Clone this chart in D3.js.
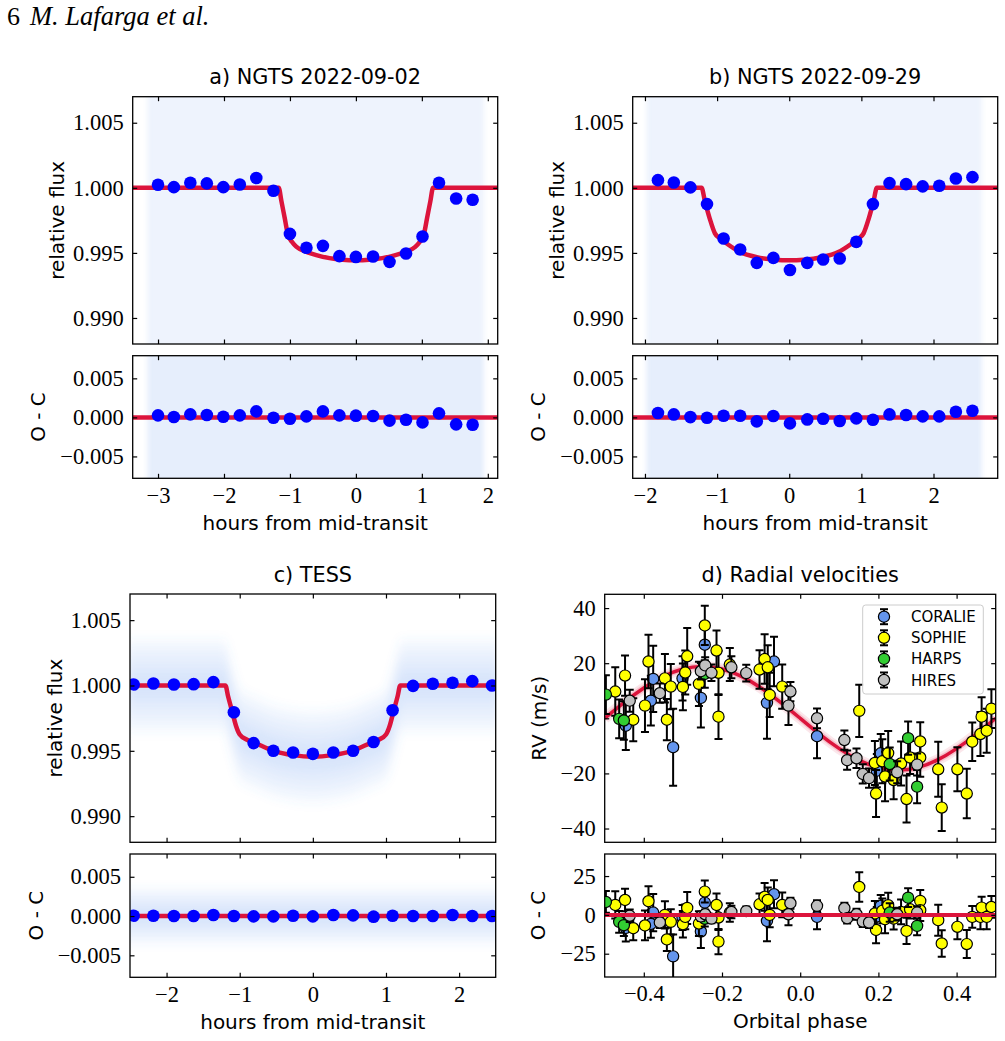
<!DOCTYPE html>
<html>
<head>
<meta charset="utf-8">
<script src="https://cdn.jsdelivr.net/npm/d3@7"></script>
<style>
body { margin: 0; background: #fff; }
.tick-label { font-family: "Liberation Serif", "Times New Roman", serif; font-size: 22.5px; }
.lab { font-family: "DejaVu Sans", sans-serif; font-size: 20px; }
.ttl { font-family: "DejaVu Sans", sans-serif; font-size: 20.8px; }
.leg { font-family: "DejaVu Sans", sans-serif; font-size: 15px; }
</style>
</head>
<body>
<svg id="fig" width="1005" height="1041"></svg>
<script>
// ---- binned light curves (hours from mid-transit, relative flux, O-C) ----
var ngtsA_t = [-3.00,-2.76,-2.51,-2.26,-2.01,-1.76,-1.51,-1.25,-1.00,-0.75,-0.50,-0.25,0.00,0.26,0.51,0.76,1.01,1.26,1.52,1.77];
var ngtsA_flux = [1.00023,1.00005,1.00039,1.00034,1.00005,1.00026,1.00075,0.99977,0.99646,0.99539,0.99554,0.99475,0.99469,0.99472,0.99431,0.99495,0.99626,1.00039,0.99918,0.99908];
var ngtsA_res = [0.00026,0.00005,0.00039,0.00030,0.00009,0.00026,0.00077,-0.00004,-0.00017,0.00013,0.00077,0.00026,0.00022,0.00018,-0.00042,-0.00030,-0.00064,0.00052,-0.00089,-0.00094];

var ngtsB_t = [-1.82,-1.60,-1.37,-1.14,-0.91,-0.68,-0.45,-0.22,0.01,0.25,0.47,0.70,0.93,1.16,1.39,1.62,1.85,2.08,2.31,2.54];
var ngtsB_flux = [1.00059,1.00041,1.00003,0.99875,0.99611,0.99526,0.99423,0.99462,0.99369,0.99423,0.99449,0.99457,0.99585,0.99875,1.00036,1.00028,1.00011,1.00016,1.00072,1.00082];
var ngtsB_res = [0.00056,0.00038,0.00004,-0.00004,0.00021,0.00021,-0.00051,0.00017,-0.00077,-0.00026,-0.00017,-0.00047,-0.00013,-0.00030,0.00038,0.00030,0.00013,0.00013,0.00073,0.00085];

var tess_t = [-2.45,-2.18,-1.90,-1.63,-1.36,-1.08,-0.81,-0.54,-0.27,0.00,0.28,0.55,0.83,1.09,1.37,1.64,1.91,2.18,2.45];
var tess_flux = [1.00008,1.00015,1.00008,1.00010,1.00026,0.99795,0.99559,0.99500,0.99487,0.99477,0.99487,0.99500,0.99567,0.99810,0.99997,1.00013,1.00021,1.00033,1.00000];
var tess_res = [0.00004,0.00004,0,0,0.00013,0,-0.00004,-0.00004,0.00004,-0.00004,0.00013,0.00008,-0.00008,0.00004,0,0,0.00013,0,0];

// transit models [hours, flux]
var modelA = [[-3.40,1],[-1.17,1],[-1.13,0.9990],[-1.08,0.9977],[-1.03,0.9964],[-0.97,0.99585],[-0.90,0.99546],[-0.75,0.99508],[-0.60,0.99483],[-0.40,0.99460],[-0.20,0.99448],[0,0.99444],[0.20,0.99448],[0.40,0.99460],[0.60,0.99483],[0.75,0.99508],[0.90,0.99546],[0.97,0.99585],[1.03,0.9964],[1.08,0.9977],[1.13,0.9990],[1.17,1],[2.20,1]];
var modelB = [[-2.20,1],[-1.215,1],[-1.17,0.9990],[-1.10,0.9976],[-1.03,0.9965],[-0.96,0.9961],[-0.90,0.99585],[-0.68,0.99506],[-0.45,0.99467],[-0.20,0.99448],[0,0.99444],[0.20,0.99448],[0.45,0.99467],[0.68,0.99506],[0.90,0.99585],[0.96,0.9961],[1.03,0.9965],[1.10,0.9976],[1.17,0.9990],[1.215,1],[2.95,1]];
var modelC = [[-2.55,1],[-1.195,1],[-1.16,0.9992],[-1.10,0.99795],[-1.05,0.9969],[-1.00,0.99625],[-0.90,0.99585],[-0.81,0.99565],[-0.54,0.99500],[-0.27,0.99467],[0,0.99454],[0.27,0.99467],[0.54,0.99500],[0.81,0.99565],[0.90,0.99585],[1.00,0.99625],[1.05,0.9969],[1.10,0.99795],[1.16,0.9992],[1.195,1],[2.55,1]];

// extent of the unbinned photometry cloud (hours) and its spread (flux)
var ngtsA_cloud = [-3.16, 1.94];
var ngtsB_cloud = [-1.98, 2.67];
var tess_spread = [0.0008, 0.0015, 0.0022, 0.0029, 0.0036];

// ---- radial velocities: [phase, RV (m/s), error, O-C] ----
var coralie = [[-0.446,-2.7,8.8,-8.4],[-0.382,6.4,9.0,-5.8],[-0.376,14.3,12.0,1.5],[-0.325,-10.5,14.0,-26.7],[-0.301,14.5,8.0,-1.7],[-0.254,7.4,10.7,-10.7],[-0.244,26.7,6.0,7.9],[-0.085,5.6,13.0,-3.9],[-0.067,20.6,9.0,13.3],[0.043,-6.5,8.0,-1.3],[0.196,-19.0,6.0,-1.0],[0.206,-12.7,7.0,5.8]];
var sophie = [[-0.473,9.7,8.8,6.4],[-0.448,15.5,7.3,9.6],[-0.427,-0.5,7.8,-8.6],[-0.397,4.6,9.6,-6.8],[-0.388,20.6,9.7,8.8],[-0.346,14.5,8.8,0.0],[-0.341,-0.5,7.5,-15.8],[-0.331,11.5,8.2,-4.5],[-0.300,11.4,8.5,-6.0],[-0.294,16.6,8.0,-1.3],[-0.289,22.5,10.3,4.5],[-0.259,12.5,8.0,-5.6],[-0.244,33.7,7.1,15.0],[-0.214,24.6,7.3,6.4],[-0.209,16.5,8.0,-1.7],[-0.209,0.6,8.1,-17.2],[-0.180,19.5,6.0,1.5],[-0.104,17.7,7.0,6.8],[-0.091,21.5,9.0,11.6],[-0.083,18.5,8.0,9.6],[-0.078,8.5,8.0,0.0],[-0.046,11.5,8.0,6.4],[0.151,2.7,9.5,18.0],[0.191,-16.2,8.0,0.9],[0.194,-27.3,8.5,-9.7],[0.210,-15.6,8.0,2.6],[0.217,-21.1,9.0,-2.8],[0.225,-12.6,8.0,6.2],[0.239,-22.4,7.0,-2.4],[0.258,-16.4,8.0,1.9],[0.272,-29.3,8.5,-10.3],[0.281,-14.2,6.0,3.6],[0.307,-8.4,7.0,9.0],[0.307,-14.2,7.0,3.0],[0.353,-18.5,10.0,-3.4],[0.362,-32.4,8.5,-18.4],[0.402,-18.5,8.0,-7.7],[0.426,-27.3,9.0,-18.8],[0.440,-8.5,7.0,-1.3],[0.461,-5.7,8.0,-1.3],[0.464,0.6,7.0,4.7],[0.477,-4.5,8.0,-1.3],[0.489,3.5,7.0,5.1]];
var harps = [[-0.497,8.6,7.0,8.3],[-0.463,-0.2,7.0,-4.5],[-0.451,-0.8,7.0,-6.6],[-0.244,16.1,5.0,-2.5],[0.229,-16.6,6.0,1.5],[0.276,-7.2,6.0,11.1],[0.299,-24.8,6.0,-7.1]];
var hires = [[-0.436,6.4,4.0,-0.6],[-0.359,9.1,3.5,-4.9],[-0.254,17.1,3.0,-1.0],[-0.243,19.2,3.0,0.4],[-0.227,16.5,3.0,-2.4],[-0.176,18.5,4.0,1.9],[-0.138,16.4,3.0,2.4],[-0.025,9.7,3.5,7.5],[-0.030,4.6,7.0,0.4],[0.043,0.0,3.6,5.8],[0.113,-7.9,3.5,4.3],[0.120,-15.2,3.5,-2.1],[0.144,-14.5,3.5,0.4],[0.160,-20.2,3.5,-4.3],[0.176,-21.7,3.5,-4.9],[0.248,-19.6,4.0,0.4],[0.299,-16.8,4.0,1.5]];

// keplerian model [phase, RV]
var rvModel = [[-0.5,0],[-0.45,5.8],[-0.4,11.0],[-0.35,15.2],[-0.3,17.9],[-0.25,18.8],[-0.2,17.9],[-0.15,15.2],[-0.1,11.0],[-0.05,5.8],[0,0],[0.05,-5.8],[0.1,-11.0],[0.15,-15.2],[0.2,-17.9],[0.25,-18.8],[0.3,-17.9],[0.35,-15.2],[0.4,-11.0],[0.45,-5.8],[0.5,0]];

var instNames = ["CORALIE", "SOPHIE", "HARPS", "HIRES"];
var instColors = ["#6495ed", "#ffff00", "#32cd32", "#c0c0c0"];

var fluxTicks = [0.990, 0.995, 1.000, 1.005];
var ocTicks = [-0.005, 0, 0.005];

var RED = "#dc143c", BLUE = "#0000ff", CLOUD = "#6495ed";
var TICK = 4.5;
var svg = d3.select("#fig");
var clipCount = 0;

// soft edges for the unbinned photometry clouds
var defs = svg.append("defs");
defs.append("filter").attr("id", "soft").attr("x", "-10%").attr("y", "-20%").attr("width", "120%").attr("height", "140%")
    .append("feGaussianBlur").attr("stdDeviation", 5);
defs.append("filter").attr("id", "edge").attr("x", "-10%").attr("y", "-10%").attr("width", "120%").attr("height", "120%")
    .append("feGaussianBlur").attr("stdDeviation", 2.5);

function axesBox(left, top, w, h) {
    var g = svg.append("g").attr("transform", "translate(" + left + "," + top + ")");
    var id = "clip" + (clipCount++);
    g.append("clipPath").attr("id", id).append("rect").attr("width", w).attr("height", h);
    g.plot = g.append("g").attr("clip-path", "url(#" + id + ")");
    return g;
}

function drawTicks(g, x, y, w, h, xTicks, yTicks, xFmt, yFmt) {
    g.append("g").attr("transform", "translate(0," + h + ")")
        .call(d3.axisBottom(x).tickValues(xTicks).tickSize(-TICK).tickPadding(8.5).tickFormat(xFmt || ""));
    g.append("g").call(d3.axisTop(x).tickValues(xTicks).tickSize(-TICK).tickFormat(""));
    g.append("g").call(d3.axisLeft(y).tickValues(yTicks).tickSize(-TICK).tickPadding(9).tickFormat(yFmt));
    g.append("g").attr("transform", "translate(" + w + ",0)")
        .call(d3.axisRight(y).tickValues(yTicks).tickSize(-TICK).tickFormat(""));
    g.selectAll(".domain").remove();
    g.selectAll(".tick line").attr("stroke", "#000").attr("stroke-width", 1.2);
    g.selectAll(".tick text").attr("class", "tick-label").attr("fill", "#000");
    g.append("rect").attr("width", w).attr("height", h)
        .attr("fill", "none").attr("stroke", "#000").attr("stroke-width", 1.3);
}

function yLabel(text, x, yc) {
    svg.append("text").attr("class", "lab").attr("text-anchor", "middle")
        .attr("transform", "translate(" + x + "," + yc + ") rotate(-90)").text(text);
}

function lightCurvePanel(p) {
    var w = p.right - p.left;
    var x = d3.scaleLinear().domain(p.xDomain).range([0, w]);

    // main panel
    var hM = p.mainBottom - p.top;
    var yM = d3.scaleLinear().domain([0.988, 1.007]).range([hM, 0]);
    var gM = axesBox(p.left, p.top, w, hM);
    if (p.cloud) {
        gM.plot.append("rect").attr("x", x(p.cloud[0])).attr("width", x(p.cloud[1]) - x(p.cloud[0]))
            .attr("y", -20).attr("height", hM + 40).attr("fill", CLOUD).attr("opacity", 0.11)
            .attr("filter", "url(#edge)");
    } else {
        var cg = gM.plot.append("g").attr("filter", "url(#soft)");
        tess_spread.forEach(function(s) {
            cg.append("path").datum(p.model)
                .attr("d", d3.area().curve(d3.curveMonotoneX)
                    .x(function(d) { return x(d[0]); })
                    .y0(function(d) { return yM(d[1] - s); })
                    .y1(function(d) { return yM(d[1] + s); }))
                .attr("fill", CLOUD).attr("opacity", 0.055);
        });
    }
    gM.plot.append("path").datum(p.model)
        .attr("d", d3.line().curve(d3.curveMonotoneX).x(function(d) { return x(d[0]); }).y(function(d) { return yM(d[1]); }))
        .attr("fill", "none").attr("stroke", RED).attr("stroke-width", 4.5);
    gM.plot.selectAll("circle.bin").data(p.t).enter().append("circle")
        .attr("cx", function(d) { return x(d); })
        .attr("cy", function(d, i) { return yM(p.flux[i]); })
        .attr("r", 6.3).attr("fill", BLUE);
    drawTicks(gM, x, yM, w, hM, p.xTicks, fluxTicks, null, d3.format(".3f"));

    // residual panel
    var hR = p.resBottom - p.resTop;
    var yR = d3.scaleLinear().domain([-0.0078, 0.0079]).range([hR, 0]);
    var gR = axesBox(p.left, p.resTop, w, hR);
    if (p.cloud) {
        gR.plot.append("rect").attr("x", x(p.cloud[0])).attr("width", x(p.cloud[1]) - x(p.cloud[0]))
            .attr("y", -20).attr("height", hR + 40).attr("fill", CLOUD).attr("opacity", 0.16)
            .attr("filter", "url(#edge)");
    } else {
        var cr = gR.plot.append("g").attr("filter", "url(#soft)");
        tess_spread.forEach(function(s) {
            cr.append("rect").attr("x", -20).attr("width", w + 40)
                .attr("y", yR(s)).attr("height", yR(-s) - yR(s))
                .attr("fill", CLOUD).attr("opacity", 0.055);
        });
    }
    gR.plot.append("line").attr("x1", 0).attr("x2", w).attr("y1", yR(0)).attr("y2", yR(0))
        .attr("stroke", RED).attr("stroke-width", 4.5);
    gR.plot.selectAll("circle.bin").data(p.t).enter().append("circle")
        .attr("cx", function(d) { return x(d); })
        .attr("cy", function(d, i) { return yR(p.res[i]); })
        .attr("r", 6.3).attr("fill", BLUE);
    drawTicks(gR, x, yR, w, hR, p.xTicks, ocTicks, d3.format("d"), d3.format(".3f"));

    // labels
    svg.append("text").attr("class", "ttl").attr("text-anchor", "middle")
        .attr("x", p.left + w / 2).attr("y", p.top - 12.5).text(p.title);
    svg.append("text").attr("class", "lab").attr("text-anchor", "middle")
        .attr("x", p.left + w / 2).attr("y", p.resBottom + 52).text("hours from mid-transit");
    yLabel("relative flux", p.labX, p.top + hM / 2);
    yLabel("O - C", p.labX - 18.5, p.resTop + hR / 2);
}

lightCurvePanel({ left: 132.7, right: 497.7, top: 96.7, mainBottom: 344, resTop: 355.7, resBottom: 478.3,
    xDomain: [-3.384, 2.15], xTicks: [-3, -2, -1, 0, 1, 2], title: "a) NGTS 2022-09-02",
    t: ngtsA_t, flux: ngtsA_flux, res: ngtsA_res, model: modelA, cloud: ngtsA_cloud, labX: 63.5 });
lightCurvePanel({ left: 632.7, right: 997.7, top: 96.7, mainBottom: 344, resTop: 355.7, resBottom: 478.3,
    xDomain: [-2.17, 2.89], xTicks: [-2, -1, 0, 1, 2], title: "b) NGTS 2022-09-29",
    t: ngtsB_t, flux: ngtsB_flux, res: ngtsB_res, model: modelB, cloud: ngtsB_cloud, labX: 563.5 });
lightCurvePanel({ left: 130, right: 495.7, top: 594, mainBottom: 842.3, resTop: 854, resBottom: 977.3,
    xDomain: [-2.5, 2.5], xTicks: [-2, -1, 0, 1, 2], title: "c) TESS",
    t: tess_t, flux: tess_flux, res: tess_res, model: modelC, cloud: null, labX: 61.5 });

// ---- radial velocity panel ----
(function() {
    var left = 604.7, right = 995.7, top = 594.3, mainBottom = 842.3, resTop = 854, resBottom = 977;
    var w = right - left;
    var x = d3.scaleLinear().domain([-0.5, 0.5]).range([0, w]);
    var hM = mainBottom - top, hR = resBottom - resTop;
    var yM = d3.scaleLinear().domain([-45, 45]).range([hM, 0]);
    var yR = d3.scaleLinear().domain([-40, 39.2]).range([hR, 0]);
    var sets = [coralie, sophie, harps, hires];

    function errPoints(g, y, col) {
        sets.forEach(function(rows, k) {
            var grp = g.append("g");
            rows.forEach(function(r) {
                var cx = x(r[0]), v = r[col];
                var y0 = y(v - r[2]), y1 = y(v + r[2]);
                grp.append("line").attr("x1", cx).attr("x2", cx).attr("y1", y0).attr("y2", y1)
                    .attr("stroke", "#000").attr("stroke-width", 2);
                [y0, y1].forEach(function(yy) {
                    grp.append("line").attr("x1", cx - 4).attr("x2", cx + 4).attr("y1", yy).attr("y2", yy)
                        .attr("stroke", "#000").attr("stroke-width", 2);
                });
            });
            grp.selectAll("circle").data(rows).enter().append("circle")
                .attr("cx", function(r) { return x(r[0]); })
                .attr("cy", function(r) { return y(r[col]); })
                .attr("r", 5.6).attr("fill", instColors[k]).attr("stroke", "#000").attr("stroke-width", 1.2);
        });
    }

    var gM = axesBox(left, top, w, hM);
    var line = d3.line().curve(d3.curveNatural).x(function(d) { return x(d[0]); }).y(function(d) { return yM(d[1]); });
    gM.plot.append("path").datum(rvModel).attr("d", line).attr("fill", "none")
        .attr("stroke", RED).attr("stroke-opacity", 0.1).attr("stroke-width", 11);
    gM.plot.append("path").datum(rvModel).attr("d", line).attr("fill", "none")
        .attr("stroke", RED).attr("stroke-opacity", 0.18).attr("stroke-width", 6.5);
    gM.plot.append("path").datum(rvModel).attr("d", line).attr("fill", "none")
        .attr("stroke", RED).attr("stroke-width", 3.5);
    errPoints(gM.plot, yM, 1);
    drawTicks(gM, x, yM, w, hM, [-0.4, -0.2, 0, 0.2, 0.4], [-40, -20, 0, 20, 40], null, d3.format("d"));

    // legend
    var lg = svg.append("g");
    lg.append("rect").attr("x", 862.7).attr("y", 605).attr("width", 120.6).attr("height", 89).attr("rx", 3)
        .attr("fill", "#fff").attr("fill-opacity", 0.8).attr("stroke", "#cccccc").attr("stroke-width", 1);
    instNames.forEach(function(name, k) {
        var cy = 616.7 + k * 21.1, cx = 884;
        lg.append("line").attr("x1", cx).attr("x2", cx).attr("y1", cy - 7.5).attr("y2", cy + 7.5)
            .attr("stroke", "#000").attr("stroke-width", 2);
        [cy - 7.5, cy + 7.5].forEach(function(yy) {
            lg.append("line").attr("x1", cx - 4).attr("x2", cx + 4).attr("y1", yy).attr("y2", yy)
                .attr("stroke", "#000").attr("stroke-width", 2);
        });
        lg.append("circle").attr("cx", cx).attr("cy", cy).attr("r", 5.6)
            .attr("fill", instColors[k]).attr("stroke", "#000").attr("stroke-width", 1.2);
        lg.append("text").attr("class", "leg").attr("x", 911).attr("y", cy + 5.5).text(name);
    });

    var gR = axesBox(left, resTop, w, hR);
    errPoints(gR.plot, yR, 3);
    gR.plot.append("line").attr("x1", 0).attr("x2", w).attr("y1", yR(0)).attr("y2", yR(0))
        .attr("stroke", RED).attr("stroke-width", 4);
    drawTicks(gR, x, yR, w, hR, [-0.4, -0.2, 0, 0.2, 0.4], [-25, 0, 25], d3.format(".1f"), d3.format("d"));

    svg.append("text").attr("class", "ttl").attr("text-anchor", "middle")
        .attr("x", left + w / 2).attr("y", top - 12.5).text("d) Radial velocities");
    svg.append("text").attr("class", "lab").attr("text-anchor", "middle")
        .attr("x", left + w / 2).attr("y", resBottom + 51).text("Orbital phase");
    yLabel("RV (m/s)", 546, top + hM / 2);
    yLabel("O - C", 545, resTop + hR / 2);
})();

// running header
svg.append("text").attr("x", 7).attr("y", 25)
    .style("font-family", "'Liberation Serif', serif").style("font-size", "26px").text("6");
svg.append("text").attr("x", 30).attr("y", 25)
    .style("font-family", "'Liberation Serif', serif").style("font-size", "26.5px").style("font-style", "italic")
    .text("M. Lafarga et al.");
</script>
</body>
</html>
